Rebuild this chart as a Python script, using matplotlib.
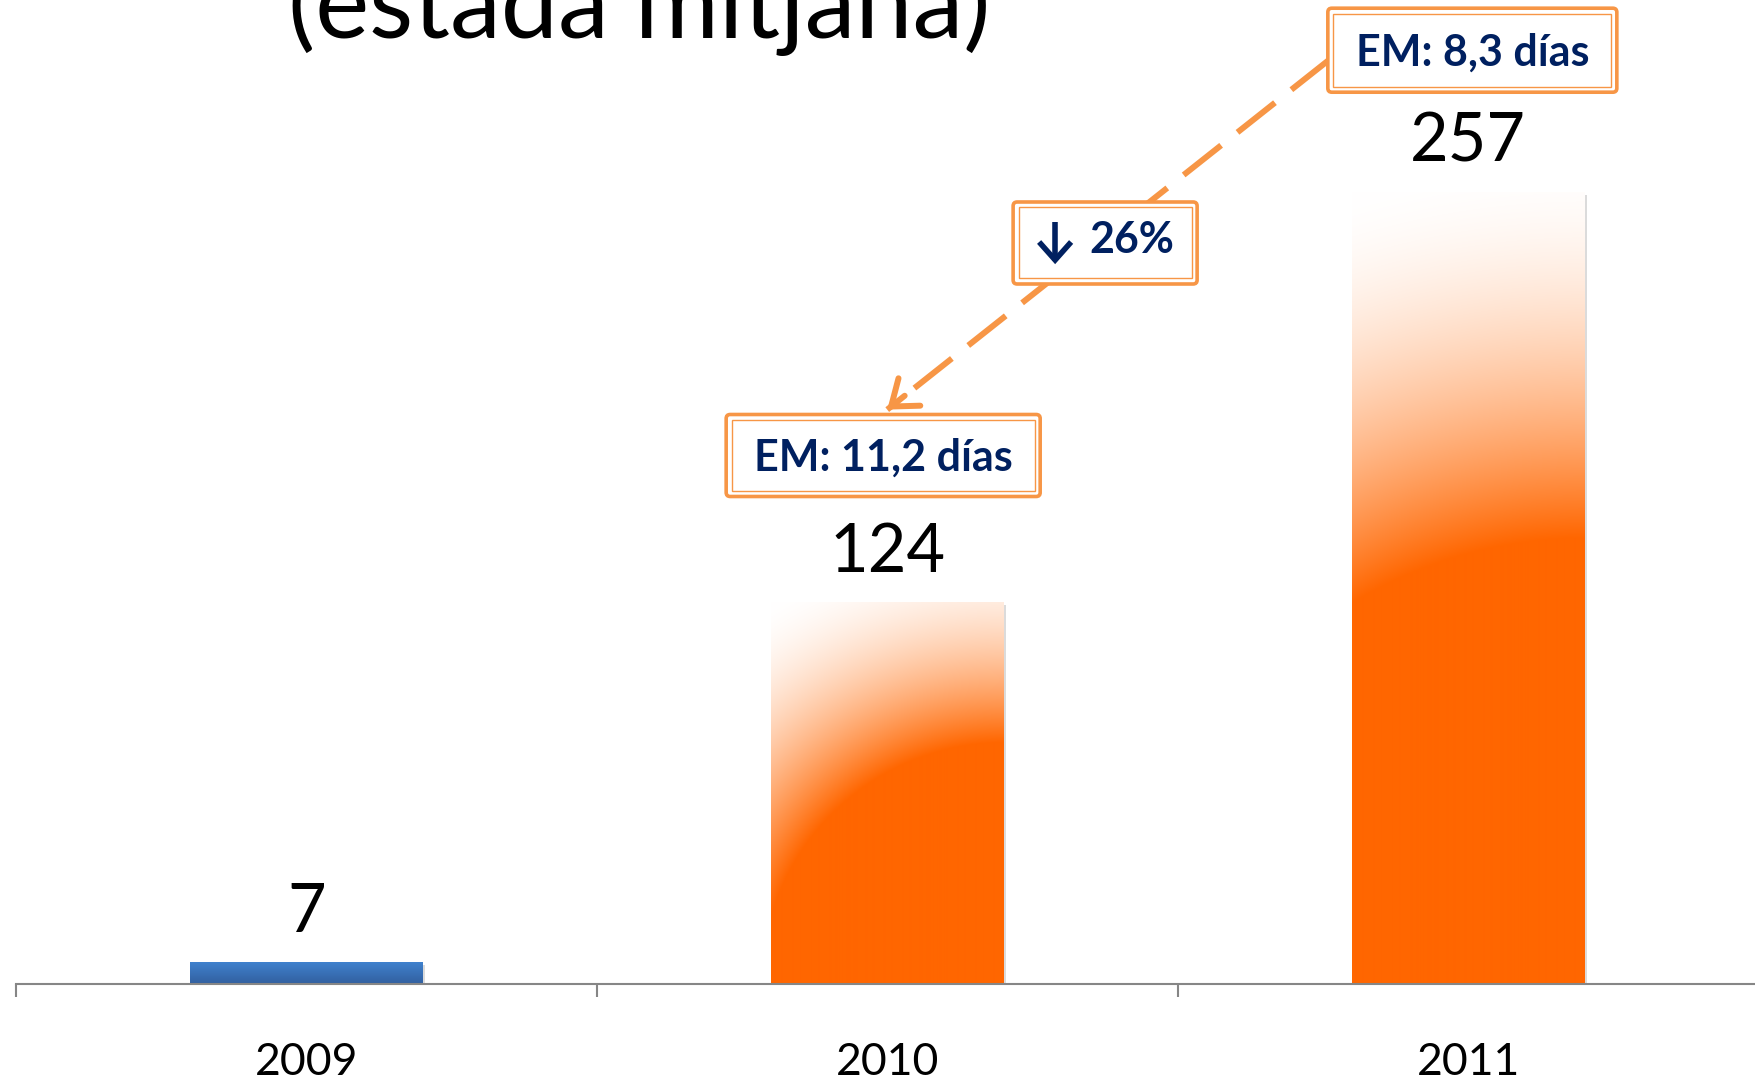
import numpy as np
import matplotlib
matplotlib.use("Agg")
import matplotlib.pyplot as plt
import matplotlib.patheffects as pe
from matplotlib.lines import Line2D
from matplotlib.patches import FancyBboxPatch
from matplotlib.transforms import IdentityTransform

plt.rcParams["font.family"] = ["Lato", "DejaVu Sans"]

# data
YEARS = ["2009", "2010", "2011"]
PATIENTS = [7, 124, 257]
BAR_KIND = ["blue", "orange", "orange"]
TITLE = "(estada mitjana)"
STAY_2010 = "EM: 11,2 días"
STAY_2011 = "EM: 8,3 días"
DROP_PCT = "26%"

ORANGE_BAR = np.array([255, 102, 0]) / 255
BLUE_TOP = np.array([64, 129, 205]) / 255
BLUE_BOT = np.array([50, 96, 160]) / 255
BOX_ORANGE = "#f79646"
NAVY = "#002060"
AXIS_GREY = "#868686"


def _orange_gradient(w_px, h_px):
    # radial fill centred on the bottom-right corner, fading to white top-left
    j = np.arange(w_px)[None, :] + 0.5
    i = np.arange(h_px)[:, None] + 0.5
    d = np.hypot(w_px - j, h_px - i) / np.hypot(w_px, h_px)
    s = np.clip((d - 0.54) / 0.46, 0, 1)
    s = 1 - (1 - s) ** 1.8
    return ORANGE_BAR[None, None, :] * (1 - s[..., None]) + s[..., None]


def _blue_gradient(w_px, h_px):
    t = np.linspace(0, 1, h_px)[:, None, None]
    img = BLUE_TOP * (1 - t) + BLUE_BOT * t
    return np.repeat(img, w_px, axis=1)


def _frame(ax, x, y, w_px, h_px):
    cx, cy = ax.transData.transform((x, y))
    outer = FancyBboxPatch((cx - w_px / 2, cy - h_px / 2), w_px, h_px,
                           boxstyle="round,pad=0,rounding_size=4",
                           transform=IdentityTransform(), facecolor="white",
                           edgecolor=BOX_ORANGE, linewidth=2.6, zorder=6)
    inner = FancyBboxPatch((cx - w_px / 2 + 5.5, cy - h_px / 2 + 5.5), w_px - 11, h_px - 11,
                           boxstyle="square,pad=0", transform=IdentityTransform(),
                           facecolor="none", edgecolor=BOX_ORANGE, linewidth=1.0, zorder=6)
    ax.add_patch(outer)
    ax.add_patch(inner)


def _label(ax, x, y, text, dx=0, ha="center", **kw):
    ax.annotate(text, xy=(x, y), xytext=(dx, -11), textcoords="offset points",
                ha=ha, va="baseline", fontsize=31, fontweight="bold",
                color=NAVY, zorder=7, **kw)


def _down_arrow(ax, x, y, dx_px):
    # bold "down" glyph drawn as strokes, offsets in pixels from the box centre
    cx, cy = ax.transData.transform((x, y))
    ax_ = cx + dx_px
    stem = Line2D([ax_, ax_], [cy + 21, cy - 18], transform=IdentityTransform(),
                  color=NAVY, lw=4.0, solid_capstyle="butt", zorder=7)
    head = Line2D([ax_ - 16, ax_, ax_ + 16], [cy + 1, cy - 17, cy + 1],
                  transform=IdentityTransform(), color=NAVY, lw=4.0,
                  solid_joinstyle="miter", solid_capstyle="butt", zorder=7)
    ax.add_line(stem)
    ax.add_line(head)


fig = plt.figure(figsize=(17.55, 10.8), dpi=100)
ax = fig.add_axes([0.00895, 0.0889, 0.9932, 0.9111])
x = np.arange(len(YEARS))
ax.set_xlim(-0.5, 2.5)
ax.set_ylim(0, 319.5)

bars = ax.bar(x, PATIENTS, width=0.4, color="#ff6600", zorder=2)
for bar, kind in zip(bars, BAR_KIND):
    bar.set_path_effects([pe.SimplePatchShadow(offset=(2, -2), shadow_rgbFace="#9a9a9a", alpha=0.35),
                          pe.Normal()])
    x0, w, h = bar.get_x(), bar.get_width(), bar.get_height()
    (px0, py0), (px1, py1) = ax.transData.transform([(x0, 0), (x0 + w, h)])
    w_px, h_px = max(int(round(px1 - px0)), 2), max(int(round(py1 - py0)), 2)
    img = _orange_gradient(w_px, h_px) if kind == "orange" else _blue_gradient(w_px, h_px)
    im = ax.imshow(img, extent=(x0, x0 + w, 0, h), origin="upper", aspect="auto",
                   interpolation="bilinear", zorder=2.1)
    im.set_clip_path(bar)

ax.set_xlim(-0.5, 2.5)
ax.set_ylim(0, 319.5)

for xi, v in zip(x, PATIENTS):
    ax.annotate(str(v), xy=(xi, v), xytext=(0, 22), textcoords="offset points",
                ha="center", va="baseline", fontsize=48, color="black")

for side in ["left", "right", "top"]:
    ax.spines[side].set_visible(False)
ax.spines["bottom"].set_color(AXIS_GREY)
ax.spines["bottom"].set_linewidth(1.5)
ax.set_yticks([])
ax.set_xticks(np.arange(len(YEARS) + 1) - 0.5)
ax.set_xticklabels([])
ax.tick_params(axis="x", which="major", length=9.4, width=1.5, color=AXIS_GREY)
ax.set_xticks(x, minor=True)
ax.set_xticklabels(YEARS, minor=True)
ax.tick_params(axis="x", which="minor", length=0, pad=42, labelsize=32)

# dashed connector 2011 -> 2010 with solid open head
start, end = (1.76, 300.0), (1.0, 186.5)
ax.plot([start[0], end[0]], [start[1], end[1]], color=BOX_ORANGE, lw=4.3,
        linestyle=(0, (8, 3.5)), dash_capstyle="butt", zorder=4)
ax.annotate("", xy=end, xytext=(end[0] + 0.03, end[1] + 4.5),
            arrowprops=dict(arrowstyle="->,head_length=0.6,head_width=0.45",
                            color=BOX_ORANGE, lw=4.3, mutation_scale=28,
                            shrinkA=0, shrinkB=0, capstyle="round"),
            zorder=4)

_frame(ax, 2.007, 303.2, 289, 84)
_label(ax, 2.007, 303.2, STAY_2011)
_frame(ax, 1.375, 240.6, 184, 82)
_down_arrow(ax, 1.375, 240.6, -50)
_label(ax, 1.375, 242.2, DROP_PCT, dx=-11, ha="left")
_frame(ax, 0.993, 171.6, 314, 82)
_label(ax, 0.993, 171.6, STAY_2010)

fig.text(0.3644, 1 - 38 / 1080, TITLE, ha="center", va="baseline", fontsize=73.5, color="black")

fig.savefig("out.png", dpi=100)
